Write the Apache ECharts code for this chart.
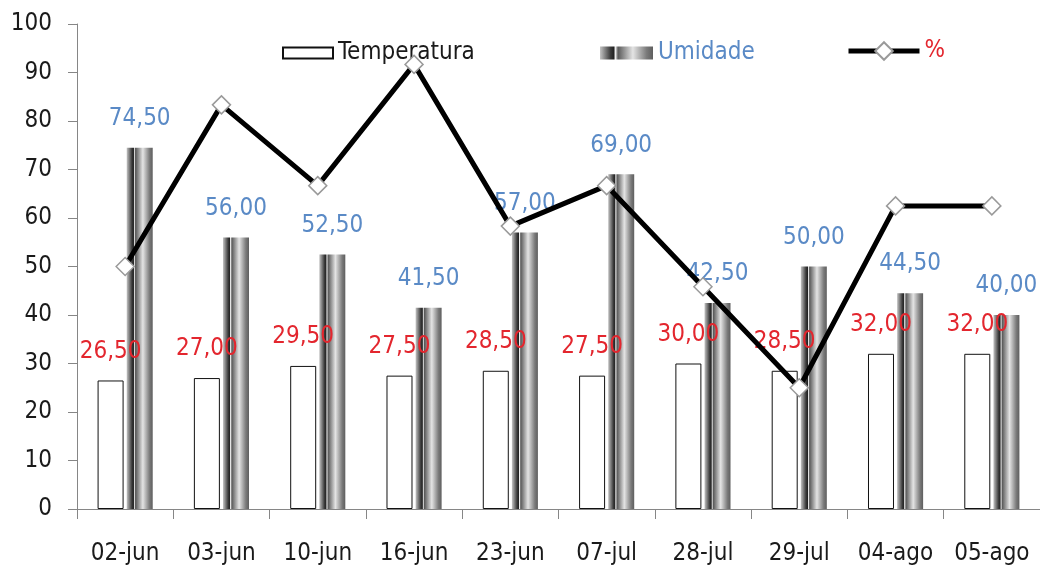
<!DOCTYPE html>
<html>
<head>
<meta charset="utf-8">
<script src="https://cdn.jsdelivr.net/npm/echarts@6/dist/echarts.min.js"></script>
<style>
html,body{margin:0;padding:0;background:#fff;}
#c{width:1040px;height:569px;}
</style>
</head>
<body>
<div id="c"></div>
<script>
const categories = ['02-jun','03-jun','10-jun','16-jun','23-jun','07-jul','28-jul','29-jul','04-ago','05-ago'];
const temperatura = [26.5, 27, 29.5, 27.5, 28.5, 27.5, 30, 28.5, 32, 32];
const umidade = [74.5, 56, 52.5, 41.5, 57, 69, 42.5, 50, 44.5, 40];
const percent = [50, 83.33, 66.67, 91.67, 58.33, 66.67, 45.83, 25, 62.5, 62.5];
const yTicks = {min: 0, max: 100, interval: 10};

const FONT = '"DejaVu Sans Condensed", "Liberation Sans Narrow", sans-serif';
const fmt = v => v.toFixed(2).replace('.', ',');

const umiGrad = new echarts.graphic.LinearGradient(0, 0, 1, 0, [
  {offset: 0, color: '#c4c4c4'},
  {offset: 0.2, color: '#3a3a3a'},
  {offset: 0.26, color: '#222222'},
  {offset: 0.29, color: '#f2f2f2'},
  {offset: 0.34, color: '#5a5a5a'},
  {offset: 0.62, color: '#e4e4e4'},
  {offset: 0.88, color: '#7a7a7a'},
  {offset: 1, color: '#5e5e5e'}
]);

const chart = echarts.init(document.getElementById('c'), null, {renderer: 'canvas'});
chart.setOption({
  animation: false,
  backgroundColor: '#fff',
  textStyle: {fontFamily: FONT},
  grid: {left: 77, right: -3, top: 24, bottom: 60, containLabel: false},
  legend: [
    {data: [{name: 'Temperatura', icon: 'rect'}], left: 277, top: 36, itemWidth: 50, itemHeight: 11,
     textStyle: {fontFamily: FONT, fontSize: 24, color: '#1a1a1a'}},
    {data: [{name: 'Umidade', icon: 'rect'}], left: 595, top: 36, itemWidth: 53, itemHeight: 13,
     textStyle: {fontFamily: FONT, fontSize: 24, color: '#5a8ac6'}},
    {data: ['%'], left: 841, top: 34, itemWidth: 71, itemHeight: 22,
     lineStyle: {width: 5, color: '#000000'},
     textStyle: {fontFamily: FONT, fontSize: 24, color: '#e3262e'}}
  ],
  xAxis: {
    type: 'category',
    data: categories,
    axisLine: {lineStyle: {color: '#868686', width: 1}},
    axisTick: {show: true, length: 10, interval: 0, lineStyle: {color: '#868686'}},
    axisLabel: {fontFamily: FONT, fontSize: 24, color: '#1a1a1a', margin: 33, interval: 0}
  },
  yAxis: {
    type: 'value',
    min: yTicks.min, max: yTicks.max, interval: yTicks.interval,
    axisLine: {show: true, lineStyle: {color: '#868686', width: 1}},
    axisTick: {show: true, length: 9, lineStyle: {color: '#868686'}},
    splitLine: {show: false},
    axisLabel: {fontFamily: FONT, fontSize: 24, color: '#1a1a1a', margin: 25}
  },
  series: [
    {
      name: 'Temperatura', type: 'bar', data: temperatura,
      barWidth: 26, barGap: '12%',
      itemStyle: {color: '#ffffff', borderColor: '#111111', borderWidth: 1},
      label: {show: true, position: 'top', distance: 17, formatter: p => fmt(p.value),
              fontFamily: FONT, fontSize: 24, color: '#e3262e'},
      z: 2
    },
    {
      name: 'Umidade', type: 'bar', data: umidade,
      barWidth: 26,
      itemStyle: {color: umiGrad},
      label: {show: true, position: 'top', distance: 17, formatter: p => fmt(p.value),
              fontFamily: FONT, fontSize: 24, color: '#5a8ac6'},
      z: 2
    },
    {
      name: '%', type: 'line', data: percent,
      lineStyle: {color: '#000000', width: 5},
      itemStyle: {color: '#ffffff', borderColor: '#9a9a9a', borderWidth: 1.5},
      symbol: 'diamond', symbolSize: [18, 18], showAllSymbol: true,
      z: 5
    }
  ]
});
</script>
</body>
</html>
